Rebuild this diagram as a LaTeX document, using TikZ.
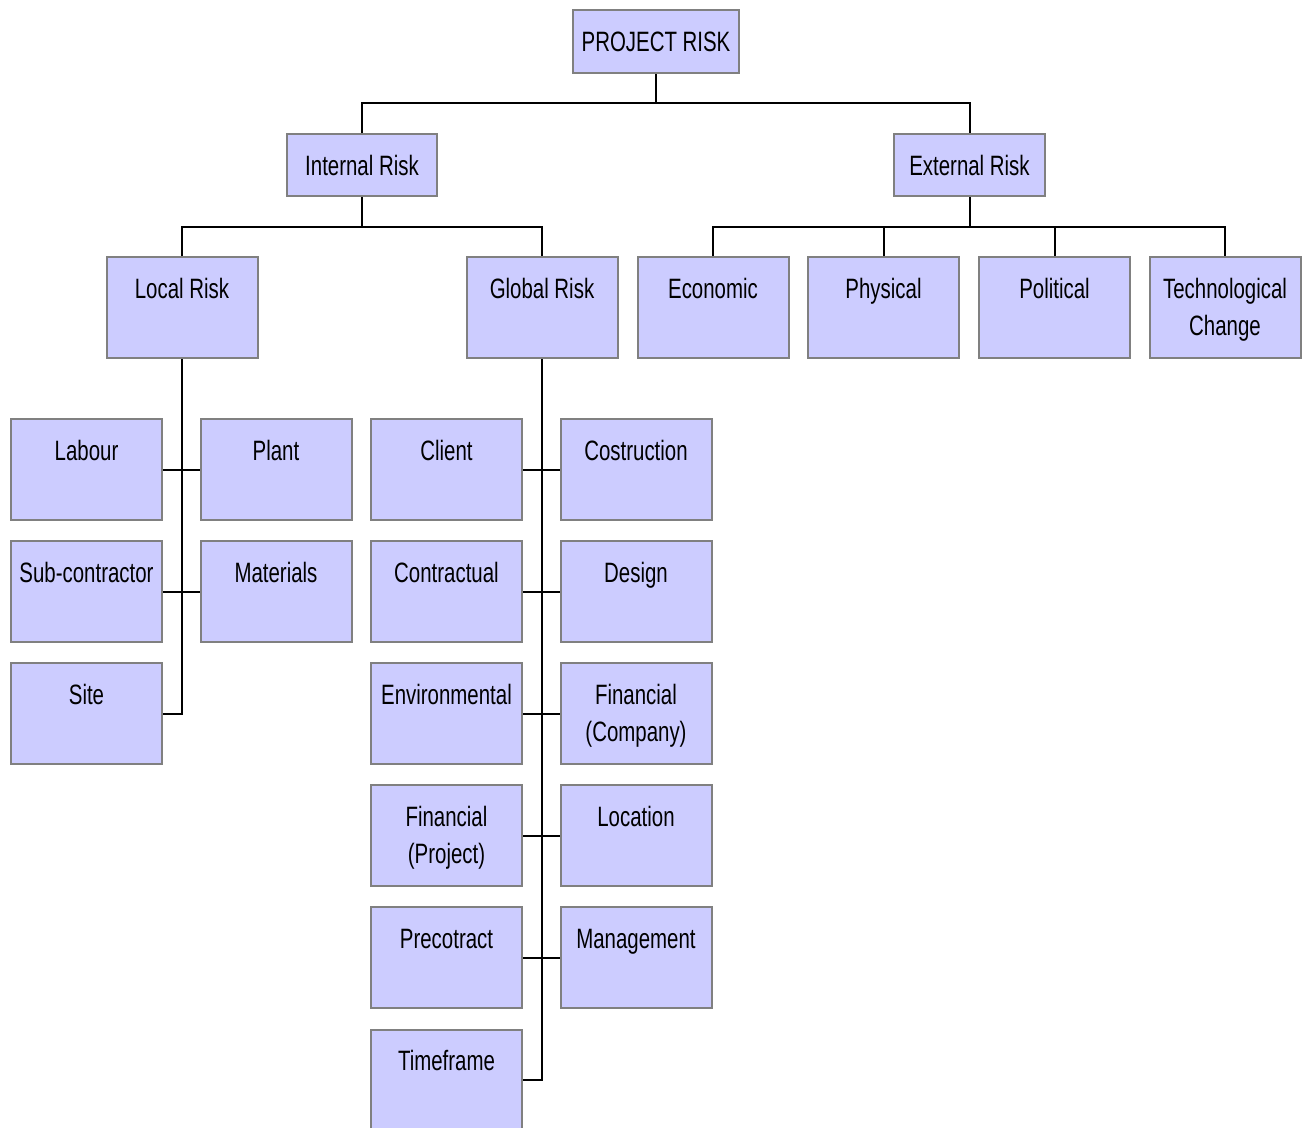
\documentclass[tikz,border=0pt]{standalone}
\usepackage{fontspec}
\setmainfont{Liberation Sans}[FakeStretch=0.73]
\definecolor{boxfill}{RGB}{204,204,255}
\definecolor{boxline}{RGB}{128,128,128}
\begin{document}
\begin{tikzpicture}[x=1pt,y=-1pt,
  lbl/.style={anchor=north, yshift=-20pt, inner sep=0pt, align=center,
    font=\fontsize{28}{37}\selectfont, execute at begin node={\rule{0pt}{22pt}}},
  boxbase/.style={draw=boxline, fill=boxfill, line width=2pt, inner sep=0pt,
    minimum width=151pt, minimum height=101pt},
  rbox/.style={boxbase, label={[lbl]north:{#1}}},
  rboxtwo/.style={boxbase, label={[lbl,yshift=-2pt]north:{#1}}},
  sbox/.style={rbox={#1}, minimum height=63pt},
  conn/.style={draw=black, line width=2pt}
]
\useasboundingbox (0,0) rectangle (1309,1127);
% top
\node[sbox={PROJECT RISK}, minimum width=166pt, minimum height=63pt] (proj) at (656,41.5) {};
\node[sbox={Internal Risk}, minimum width=150pt, minimum height=62pt] (int) at (362,165) {};
\node[sbox={External Risk}, minimum height=62pt] (ext) at (969.5,165) {};
% level 3
\node[rbox={Local Risk}] (local) at (182,307.5) {};
\node[rbox={Global Risk}] (global) at (542,307.5) {};
\node[rbox={Economic}] (econ) at (713,307.5) {};
\node[rbox={Physical}] (phys) at (883.5,307.5) {};
\node[rbox={Political}] (pol) at (1054.5,307.5) {};
\node[rboxtwo={Technological\\Change}] (tech) at (1225,307.5) {};
% local children
\node[rbox={Labour}] (lab) at (86.5,469.5) {};
\node[rbox={Plant}] (plant) at (276,469.5) {};
\node[rbox={Sub-contractor}] (sub) at (86.5,591.5) {};
\node[rbox={Materials}] (mat) at (276,591.5) {};
\node[rbox={Site}] (site) at (86.5,713.5) {};
% global children
\node[rbox={Client}] (client) at (446.5,469.5) {};
\node[rbox={Costruction}] (cost) at (636,469.5) {};
\node[rbox={Contractual}] (contr) at (446.5,591.5) {};
\node[rbox={Design}] (design) at (636,591.5) {};
\node[rbox={Environmental}] (env) at (446.5,713.5) {};
\node[rboxtwo={Financial\\(Company)}] (fincomp) at (636,713.5) {};
\node[rboxtwo={Financial\\(Project)}] (finproj) at (446.5,835.5) {};
\node[rbox={Location}] (loc) at (636,835.5) {};
\node[rbox={Precotract}] (prec) at (446.5,957.5) {};
\node[rbox={Management}] (mgmt) at (636,957.5) {};
\node[rbox={Timeframe}] (time) at (446.5,1080) {};
% bus coordinates
\coordinate (bus1) at (656,103);
\coordinate (bus2) at (362,227);
\coordinate (bus3) at (969.5,227);
% connectors
\draw[conn] (proj.south) -- (bus1);
\draw[conn] (int.north) |- (bus1) -| (ext.north);
\draw[conn] (int.south) -- (bus2);
\draw[conn] (local.north) |- (bus2) -| (global.north);
\draw[conn] (ext.south) -- (bus3);
\draw[conn] (econ.north) |- (bus3) -| (tech.north);
\draw[conn] (phys.north) -- (phys.north |- bus3);
\draw[conn] (pol.north) -- (pol.north |- bus3);
\draw[conn] (local.south) |- (site.east);
\draw[conn] (lab.east) -- (plant.west);
\draw[conn] (sub.east) -- (mat.west);
\draw[conn] (global.south) |- (time.east);
\draw[conn] (client.east) -- (cost.west);
\draw[conn] (contr.east) -- (design.west);
\draw[conn] (env.east) -- (fincomp.west);
\draw[conn] (finproj.east) -- (loc.west);
\draw[conn] (prec.east) -- (mgmt.west);
\end{tikzpicture}
\end{document}
